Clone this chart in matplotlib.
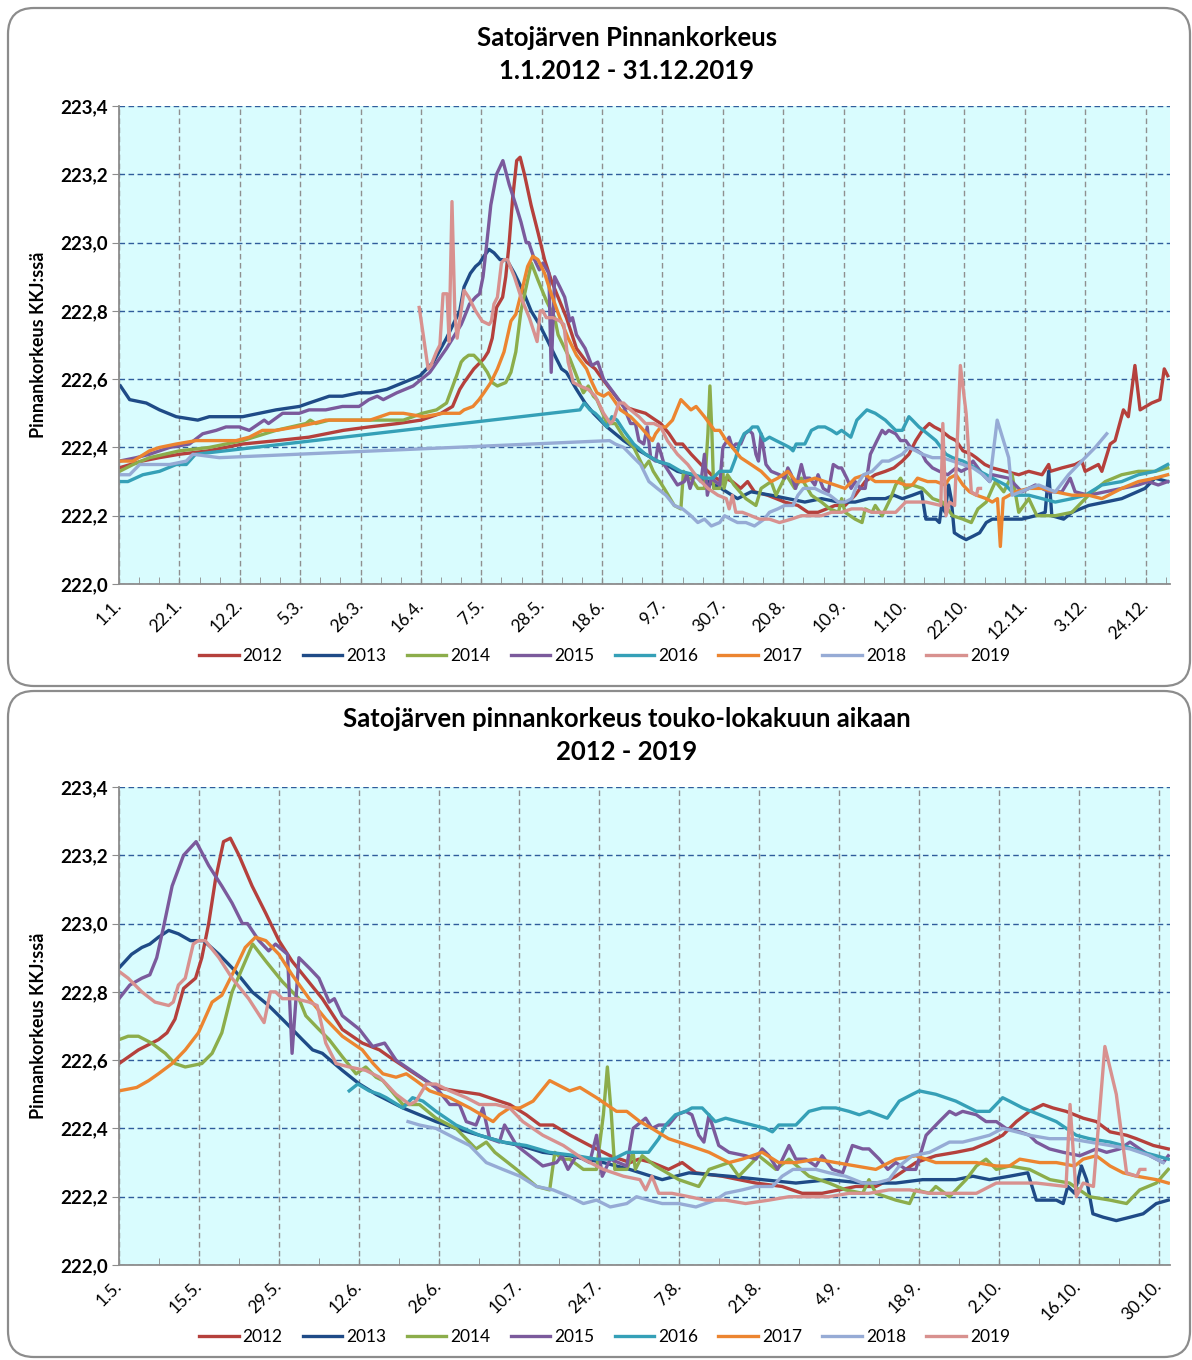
import numpy as np
import matplotlib
matplotlib.use('Agg')
import matplotlib.pyplot as plt
from matplotlib.patches import FancyBboxPatch
from matplotlib.ticker import FixedLocator
from matplotlib.transforms import ScaledTranslation

plt.rcParams['font.family'] = ['Lato', 'DejaVu Sans']

years = ['2012', '2013', '2014', '2015', '2016', '2017', '2018', '2019']
colors = ['#B5403C', '#1F4B87', '#8CAD4B', '#7B5A9C', '#35A0B7', '#EC8530', '#96ABD5', '#D8918F']

# water level (m, KKJ) as (day counted from 1.1., level)
lvl_2012 = [(0, 222.34), (8, 222.36), (14, 222.37), (21, 222.38), (31, 222.39), (43, 222.41), (55, 222.42),
            (66, 222.43), (78, 222.45), (87, 222.46), (97, 222.47), (105, 222.48), (112, 222.50), (116, 222.52),
            (118.5, 222.57), (120, 222.59), (123.4, 222.63), (126.9, 222.66), (128.4, 222.68), (129.8, 222.72),
            (131.3, 222.81), (133.4, 222.84), (134.5, 222.90), (135.7, 223.00), (136.9, 223.13), (138.3, 223.24),
            (139.5, 223.25), (141, 223.20), (143.3, 223.11), (145.7, 223.03), (148, 222.95), (150.3, 222.89),
            (152.7, 222.84), (155.6, 222.78), (159.1, 222.69), (162.6, 222.65), (165.6, 222.63), (167.3, 222.61),
            (170.9, 222.57), (175.5, 222.52), (179, 222.51), (183.1, 222.50), (186.6, 222.48), (188.4, 222.47),
            (191.3, 222.44), (193.7, 222.41), (196, 222.41), (199, 222.38), (202.4, 222.35), (206, 222.32),
            (209.5, 222.30), (211, 222.31), (213.3, 222.30), (216.2, 222.28), (218.6, 222.30), (221, 222.27),
            (225.6, 222.26), (231.5, 222.24), (236.1, 222.23), (239.6, 222.21), (243.1, 222.21), (246.1, 222.22),
            (249, 222.23), (252.5, 222.23), (256, 222.26), (259.5, 222.30), (263, 222.32), (266.5, 222.33),
            (269.5, 222.34), (272.4, 222.36), (274.7, 222.38), (277.1, 222.42), (279.4, 222.45), (281.8, 222.47),
            (283.5, 222.46), (285.8, 222.45), (288.8, 222.43), (291.1, 222.42), (293.5, 222.39), (296.4, 222.38),
            (298.1, 222.37), (301.1, 222.35), (303.7, 222.34), (308.3, 222.33), (312.9, 222.32), (316.4, 222.33),
            (321, 222.32), (323.3, 222.35), (323.9, 222.33), (327.9, 222.34), (332.5, 222.35), (334.8, 222.36),
            (336, 222.33), (340.6, 222.35), (341.8, 222.33), (344.7, 222.41), (346.4, 222.42), (349.3, 222.51),
            (351, 222.49), (353.3, 222.64), (355.1, 222.51), (359.1, 222.53), (362, 222.54), (363.5, 222.63),
            (364.7, 222.61)]

lvl_2013 = [(0.5, 222.58), (3.7, 222.54), (9.5, 222.53), (14.1, 222.51), (19.9, 222.49), (27.4, 222.48),
            (31.4, 222.49), (43, 222.49), (48.8, 222.50), (54.6, 222.51), (62.7, 222.52), (66.1, 222.53),
            (73.1, 222.55), (77.7, 222.55), (83.5, 222.56), (87.3, 222.56), (93.1, 222.57), (98.9, 222.59),
            (104.7, 222.61), (109.3, 222.65), (113.9, 222.72), (118.5, 222.80), (120, 222.87), (122.2, 222.91),
            (124, 222.93), (125.4, 222.94), (126.9, 222.96), (128.7, 222.98), (130.4, 222.97), (132.5, 222.95),
            (134.8, 222.95), (137.5, 222.91), (140.4, 222.86), (143.3, 222.80), (146.2, 222.76), (149.2, 222.71),
            (152.1, 222.66), (153.9, 222.63), (155.6, 222.62), (159.1, 222.57), (162.1, 222.53), (165, 222.50),
            (169.7, 222.46), (175.5, 222.42), (179, 222.40), (183.1, 222.38), (187.2, 222.36), (190.2, 222.35),
            (194.2, 222.33), (198.9, 222.32), (204.8, 222.30), (209.4, 222.28), (215.1, 222.25), (219.8, 222.27),
            (226.8, 222.26), (232.6, 222.25), (238.5, 222.24), (244.3, 222.25), (250.2, 222.24), (256, 222.24),
            (260.7, 222.25), (266.5, 222.25), (269.5, 222.26), (272.4, 222.25), (275.9, 222.26), (279.1, 222.27),
            (280.6, 222.19), (282.3, 222.19), (284.1, 222.19), (285.3, 222.18), (286.1, 222.23), (287.3, 222.21),
            (288.5, 222.29), (289.4, 222.25), (290.5, 222.15), (292.3, 222.14), (294.6, 222.13), (297, 222.14),
            (299.3, 222.15), (301.6, 222.18), (303.7, 222.19), (307.1, 222.19), (314, 222.19), (318.7, 222.20),
            (322.1, 222.21), (323.3, 222.33), (324.4, 222.20), (328.5, 222.19), (331.4, 222.21), (337.2, 222.23),
            (343, 222.24), (348.7, 222.25), (356.8, 222.28), (360.3, 222.31), (364.7, 222.30)]

lvl_2014 = [(0.2, 222.33), (4.9, 222.35), (10.6, 222.37), (21, 222.39), (31.4, 222.40), (43, 222.42),
            (54.6, 222.45), (65, 222.47), (66.5, 222.48), (68.5, 222.47), (73.1, 222.48), (80, 222.48),
            (87.3, 222.48), (98.9, 222.48), (105.5, 222.50), (110.4, 222.51), (113.9, 222.53), (117.4, 222.61),
            (119, 222.65), (120, 222.66), (121.6, 222.67), (123.4, 222.67), (125.7, 222.65), (128.1, 222.62),
            (129.8, 222.59), (131.6, 222.58), (134.5, 222.59), (136.3, 222.62), (138, 222.68), (139.8, 222.80),
            (141.6, 222.87), (143.4, 222.94), (145.7, 222.89), (148.6, 222.83), (151.5, 222.78), (152.7, 222.73),
            (155, 222.69), (156.8, 222.66), (159.1, 222.61), (161.5, 222.56), (163.2, 222.58), (165, 222.55),
            (166.2, 222.54), (169.7, 222.47), (172.6, 222.47), (175.5, 222.43), (179, 222.40), (182.5, 222.34),
            (184.3, 222.36), (185.8, 222.33), (189.6, 222.28), (193.1, 222.23), (195.4, 222.22), (196.3, 222.33),
            (197.5, 222.31), (198.9, 222.31), (201.3, 222.28), (203.6, 222.28), (204.8, 222.44), (205.5, 222.58),
            (206.2, 222.44), (206.8, 222.28), (208.9, 222.28), (210, 222.33), (210.4, 222.28), (211.6, 222.32),
            (213.9, 222.29), (218, 222.25), (221.5, 222.23), (223.3, 222.28), (226.8, 222.30), (228.5, 222.26),
            (232, 222.32), (235, 222.28), (237.3, 222.31), (240.8, 222.26), (244.3, 222.24), (247.2, 222.22),
            (250.2, 222.21), (251.3, 222.25), (252.5, 222.21), (256, 222.19), (258.4, 222.18), (259.5, 222.22),
            (261.9, 222.21), (263, 222.23), (265.4, 222.20), (268.3, 222.25), (270.1, 222.29), (271.8, 222.31),
            (273.6, 222.28), (275.9, 222.29), (279.4, 222.28), (283, 222.25), (286.4, 222.24), (289.9, 222.20),
            (293.5, 222.19), (296.4, 222.18), (298.7, 222.22), (301.6, 222.24), (303.7, 222.28), (304.8, 222.30),
            (307.7, 222.27), (310.6, 222.32), (312.9, 222.21), (316.4, 222.25), (319.2, 222.20), (325.6, 222.20),
            (331.4, 222.21), (337.2, 222.26), (343, 222.30), (348.7, 222.32), (354.5, 222.33), (360.3, 222.33),
            (364.7, 222.34)]

lvl_2015 = [(0.2, 222.36), (6, 222.37), (10.6, 222.38), (17.6, 222.40), (24.5, 222.41), (29.1, 222.44),
            (33.8, 222.45), (37.2, 222.46), (41.8, 222.46), (45.3, 222.45), (50.5, 222.48), (52, 222.47),
            (56.9, 222.50), (62.7, 222.50), (66.1, 222.51), (71.9, 222.51), (77.7, 222.52), (83.5, 222.52),
            (86.9, 222.54), (89.8, 222.55), (91.9, 222.54), (96.6, 222.56), (102.3, 222.58), (108.1, 222.62),
            (113.9, 222.69), (119, 222.76), (120, 222.78), (121.9, 222.82), (124, 222.84), (125.4, 222.85),
            (126.6, 222.90), (127.8, 222.99), (129.3, 223.11), (131.3, 223.20), (133.5, 223.24), (135.7, 223.17),
            (138, 223.11), (139.8, 223.06), (141.6, 223.00), (142.5, 223.00), (144.5, 222.95), (146.2, 222.92),
            (147.4, 222.94), (149.5, 222.91), (150.3, 222.62), (151.5, 222.90), (153.3, 222.87), (155, 222.84),
            (156.8, 222.77), (157.7, 222.78), (159.1, 222.73), (162.1, 222.69), (164.4, 222.64), (166.5, 222.65),
            (168.5, 222.60), (172, 222.56), (175.5, 222.52), (177.9, 222.47), (179.6, 222.47), (180.8, 222.42),
            (182.5, 222.41), (183.7, 222.46), (184.9, 222.37), (186.6, 222.36), (187.5, 222.41), (189.6, 222.35),
            (191.9, 222.32), (194.2, 222.29), (196.6, 222.30), (197.5, 222.32), (198.6, 222.28), (200.1, 222.32),
            (202.4, 222.30), (203.6, 222.38), (204.6, 222.26), (206, 222.31), (208.9, 222.29), (210, 222.40),
            (212.2, 222.43), (213.3, 222.40), (214.5, 222.41), (216.2, 222.41), (217.7, 222.44), (219.2, 222.45),
            (220.3, 222.44), (221.5, 222.38), (222.4, 222.36), (223.3, 222.44), (225, 222.35), (226.8, 222.33),
            (229.7, 222.32), (231.5, 222.31), (232.6, 222.34), (233.8, 222.32), (235.3, 222.28), (237.3, 222.35),
            (238.5, 222.31), (240.2, 222.31), (242, 222.29), (243.1, 222.32), (244.9, 222.28), (246.7, 222.27),
            (248.4, 222.35), (250.2, 222.34), (251.3, 222.34), (253.1, 222.31), (254.6, 222.28), (256, 222.30),
            (257.8, 222.28), (259.5, 222.28), (261.3, 222.38), (263.6, 222.42), (265.4, 222.45), (266.5, 222.44),
            (267.7, 222.45), (270.1, 222.44), (271.8, 222.42), (273.6, 222.42), (275.3, 222.40), (277.7, 222.39),
            (279.4, 222.38), (280.6, 222.36), (282.9, 222.34), (285.3, 222.33), (288.2, 222.32), (291.1, 222.34),
            (292.9, 222.33), (295.2, 222.34), (297, 222.36), (298.7, 222.34), (300.5, 222.32), (302.8, 222.30),
            (303.7, 222.32), (309.4, 222.31), (314, 222.27), (318.7, 222.29), (323.3, 222.27), (327.9, 222.27),
            (330.8, 222.31), (332.5, 222.27), (337.2, 222.26), (343, 222.27), (348.7, 222.28), (354.5, 222.29),
            (358, 222.30), (361.4, 222.29), (364.7, 222.30)]

lvl_2016 = [(0.2, 222.30), (3.1, 222.30), (8.3, 222.32), (14.1, 222.33), (19.9, 222.35), (23.4, 222.35),
            (26.6, 222.38), (160.3, 222.51), (161.8, 222.53), (163.8, 222.51), (165.6, 222.50), (166.8, 222.49),
            (169.7, 222.46), (171.4, 222.49), (173.2, 222.48), (175.5, 222.45), (179, 222.41), (183.1, 222.38),
            (187.2, 222.36), (191.3, 222.35), (195.4, 222.33), (200.1, 222.32), (203.6, 222.31), (206.5, 222.31),
            (208.9, 222.33), (211, 222.33), (212.7, 222.33), (214.5, 222.37), (215.7, 222.41), (217.4, 222.44),
            (219.2, 222.45), (220.3, 222.46), (222.1, 222.46), (224.4, 222.42), (226.2, 222.43), (228.5, 222.42),
            (230.9, 222.41), (233.2, 222.40), (234.4, 222.39), (235.5, 222.41), (238.5, 222.41), (240.8, 222.45),
            (243.1, 222.46), (245.5, 222.46), (247.8, 222.45), (249.6, 222.44), (251.3, 222.45), (254.5, 222.43),
            (256.6, 222.48), (258.9, 222.50), (260.1, 222.51), (263, 222.50), (266.5, 222.48), (270.1, 222.45),
            (272.4, 222.45), (274.7, 222.49), (275.9, 222.48), (278.2, 222.46), (281.2, 222.44), (284.1, 222.42),
            (287.6, 222.38), (289.9, 222.37), (293.5, 222.36), (295.8, 222.35), (299.3, 222.33), (301.6, 222.32),
            (303.7, 222.31), (308.3, 222.29), (311.7, 222.26), (316.4, 222.26), (321, 222.25), (325.6, 222.24),
            (331.4, 222.25), (336, 222.26), (341.8, 222.29), (348.7, 222.30), (354.5, 222.32), (360.3, 222.33),
            (364.7, 222.35)]

lvl_2017 = [(0.2, 222.36), (4.9, 222.36), (10.6, 222.39), (14.1, 222.40), (19.9, 222.41), (26.8, 222.42),
            (31.4, 222.42), (40.7, 222.42), (45.3, 222.43), (49.9, 222.45), (54.6, 222.45), (61.5, 222.46),
            (67.3, 222.47), (71.9, 222.48), (80, 222.48), (84.6, 222.48), (87.3, 222.48), (94.2, 222.50),
            (98.9, 222.50), (105.8, 222.49), (112.7, 222.50), (118.5, 222.50), (120, 222.51), (123.1, 222.52),
            (125.2, 222.54), (126.9, 222.56), (129.3, 222.59), (131.6, 222.63), (133.9, 222.68), (136.3, 222.77),
            (138, 222.79), (140.4, 222.87), (142.1, 222.93), (143.9, 222.96), (145.7, 222.95), (148, 222.91),
            (150.3, 222.85), (153.3, 222.78), (156.2, 222.72), (159.1, 222.67), (162.6, 222.63), (164.5, 222.59),
            (166.2, 222.56), (168.5, 222.55), (170.3, 222.56), (172, 222.54), (174.4, 222.51), (177.9, 222.49),
            (181.4, 222.46), (185.5, 222.42), (186.6, 222.44), (188.4, 222.46), (190.2, 222.46), (192.5, 222.48),
            (195.4, 222.54), (198.9, 222.51), (200.7, 222.52), (203.6, 222.49), (207.1, 222.45), (208.9, 222.45),
            (211.2, 222.42), (213.3, 222.40), (216.2, 222.37), (219.8, 222.35), (223.3, 222.33), (226.8, 222.30),
            (229.1, 222.31), (232.6, 222.33), (235.5, 222.30), (238.5, 222.30), (242, 222.31), (245.5, 222.30),
            (249, 222.29), (252.5, 222.28), (256, 222.31), (259.5, 222.32), (263, 222.30), (266.5, 222.30),
            (270.1, 222.30), (273.6, 222.29), (275.9, 222.29), (277.7, 222.31), (281.2, 222.30), (284.1, 222.30),
            (287.3, 222.29), (288.8, 222.31), (291.1, 222.32), (293.5, 222.29), (295.8, 222.27), (298.2, 222.26),
            (301.6, 222.25), (303.7, 222.24), (305.5, 222.25), (306.5, 222.11), (307.5, 222.25), (311.7, 222.27),
            (316.4, 222.28), (321, 222.28), (325.6, 222.27), (331.4, 222.26), (337.2, 222.26), (341.8, 222.25),
            (348.7, 222.28), (354.5, 222.30), (360.3, 222.31), (364.7, 222.32)]

lvl_2018 = [(0.2, 222.32), (3.7, 222.32), (7.2, 222.35), (11.8, 222.35), (17.6, 222.35), (23.4, 222.36),
            (25.7, 222.38), (34.9, 222.37), (170.6, 222.42), (172.6, 222.41), (175.5, 222.40), (179, 222.37),
            (181.4, 222.35), (184.3, 222.30), (187.2, 222.28), (190.2, 222.26), (193.1, 222.23), (196, 222.22),
            (198.9, 222.20), (201.3, 222.18), (203.6, 222.19), (206, 222.17), (208.9, 222.18), (210.6, 222.20),
            (212.7, 222.19), (215.1, 222.18), (218, 222.18), (221, 222.17), (224.4, 222.19), (226.2, 222.21),
            (229.1, 222.22), (231.5, 222.23), (234.4, 222.23), (236.1, 222.26), (238, 222.28), (239.6, 222.28),
            (242, 222.28), (244.3, 222.27), (247.2, 222.26), (250.2, 222.24), (252.5, 222.24), (254.8, 222.25),
            (256.6, 222.29), (258.9, 222.32), (261.9, 222.33), (265.4, 222.36), (267.7, 222.36), (270.1, 222.37),
            (272.4, 222.38), (274.7, 222.40), (277.1, 222.39), (279.4, 222.38), (282.9, 222.37), (286.4, 222.37),
            (289.9, 222.36), (293.5, 222.35), (297, 222.34), (300.5, 222.32), (302.8, 222.30), (305.4, 222.48),
            (309.4, 222.37), (310.6, 222.26), (316.4, 222.28), (319.8, 222.29), (325.6, 222.27), (330.2, 222.32),
            (334.8, 222.36), (339.5, 222.40), (343.5, 222.44)]

lvl_2019 = [(104.4, 222.81), (105.8, 222.73), (107.5, 222.63), (108.5, 222.64), (110.4, 222.68), (111.6, 222.70),
            (112.7, 222.85), (114.1, 222.85), (114.8, 222.71), (115.8, 223.12), (116.8, 222.79), (117.6, 222.72),
            (120, 222.86), (121.6, 222.84), (124, 222.80), (126.3, 222.77), (128.7, 222.76), (129.5, 222.77),
            (130.4, 222.82), (131.6, 222.84), (133, 222.94), (133.9, 222.95), (135.1, 222.95), (137.5, 222.90),
            (139.8, 222.84), (142.7, 222.78), (145.4, 222.71), (146.5, 222.80), (147.4, 222.80), (148.6, 222.78),
            (150.9, 222.78), (153.3, 222.77), (154.7, 222.76), (156.2, 222.65), (158, 222.59), (160.3, 222.58),
            (163.2, 222.57), (165.6, 222.55), (166.8, 222.53), (168.5, 222.50), (170.9, 222.47), (172, 222.48),
            (173.8, 222.53), (175.5, 222.53), (177.9, 222.51), (180.8, 222.49), (183.1, 222.47), (186, 222.47),
            (188.4, 222.46), (190.7, 222.42), (194.2, 222.38), (197.8, 222.35), (201.3, 222.31), (204.8, 222.28),
            (208.3, 222.26), (211.2, 222.25), (212.2, 222.22), (213.3, 222.26), (214.5, 222.21), (216.8, 222.21),
            (219.8, 222.20), (222.7, 222.19), (226.2, 222.19), (229.7, 222.18), (233.8, 222.19), (237.3, 222.20),
            (240.8, 222.20), (244.3, 222.20), (247.8, 222.21), (251.3, 222.21), (254.8, 222.22), (258.4, 222.22),
            (261.9, 222.21), (266.5, 222.21), (270.1, 222.21), (273.6, 222.24), (277.1, 222.24), (280.6, 222.24),
            (285.8, 222.23), (286.5, 222.47), (287.6, 222.20), (288.8, 222.24), (290.6, 222.23), (292.6, 222.64),
            (294.6, 222.50), (296.4, 222.27), (298.2, 222.26), (298.7, 222.28), (299.6, 222.28)]

levels = [lvl_2012, lvl_2013, lvl_2014, lvl_2015, lvl_2016, lvl_2017, lvl_2018, lvl_2019]

top_ticks = [0, 21, 42, 63, 84, 105, 126, 147, 168, 189, 210, 231, 252, 273, 294, 315, 336, 357]
top_labels = ['1.1.', '22.1.', '12.2.', '5.3.', '26.3.', '16.4.', '7.5.', '28.5.', '18.6.', '9.7.',
              '30.7.', '20.8.', '10.9.', '1.10.', '22.10.', '12.11.', '3.12.', '24.12.']
bot_ticks = [120, 134, 148, 162, 176, 190, 204, 218, 232, 246, 260, 274, 288, 302]
bot_labels = ['1.5.', '15.5.', '29.5.', '12.6.', '26.6.', '10.7.', '24.7.', '7.8.', '21.8.', '4.9.',
              '18.9.', '2.10.', '16.10.', '30.10.']
y_ticks = [222.0, 222.2, 222.4, 222.6, 222.8, 223.0, 223.2, 223.4]

fig = plt.figure(figsize=(11.92, 13.6), dpi=100)

# rounded chart frames (inches)
for y0, h in [(6.74, 6.78), (0.03, 6.66)]:
    fig.add_artist(FancyBboxPatch((0.08, y0), 11.82, h, boxstyle='round,pad=0,rounding_size=0.26',
                                  transform=fig.dpi_scale_trans, facecolor='white',
                                  edgecolor='#8C8C8C', lw=1.6, zorder=-1))

ax1 = fig.add_axes([119 / 1192, 1 - 584 / 1360, 1051 / 1192, 478 / 1360])
ax2 = fig.add_axes([119 / 1192, 1 - 1265 / 1360, 1051 / 1192, 478 / 1360])

shift = ScaledTranslation(0.09, 0, fig.dpi_scale_trans)


def setup(ax, ticks, labels, x0, x1):
    ax.set_facecolor('#D9FCFE')
    ax.set_xlim(x0, x1)
    ax.set_ylim(222.0, 223.4)
    ax.set_yticks(y_ticks)
    ax.set_yticklabels([f'{v:.1f}'.replace('.', ',') for v in y_ticks],
                       fontweight='bold', fontsize=13.5)
    ax.set_xticks(ticks)
    ax.set_xticklabels(labels, rotation=45, ha='right', va='center',
                       rotation_mode='anchor', fontsize=12.5)
    for lab in ax.get_xticklabels():
        lab.set_transform(lab.get_transform() + shift)
    ax.xaxis.set_minor_locator(FixedLocator(np.arange(x0, x1, 7)))
    ax.grid(axis='y', color='#2F5C9B', ls=(0, (4, 2.5)), lw=1)
    ax.grid(axis='x', color='#8F8F8F', ls=(0, (4, 2.5)), lw=1)
    ax.set_axisbelow(True)
    for s in ['top', 'right']:
        ax.spines[s].set_visible(False)
    for s in ['left', 'bottom']:
        ax.spines[s].set_color('#8C8C8C')
        ax.spines[s].set_linewidth(1.3)
    ax.tick_params(axis='x', which='both', direction='in', length=5, color='#8C8C8C', pad=13)
    ax.tick_params(axis='y', direction='out', length=5, color='#8C8C8C', pad=3)
    ax.set_ylabel('Pinnankorkeus KKJ:ssä', fontweight='bold', fontsize=13)
    ax.yaxis.set_label_coords(-0.0685, 0.5)


setup(ax1, top_ticks, top_labels, 0, 365.5)
setup(ax2, bot_ticks, bot_labels, 120, 304)

for yr, col, data in zip(years, colors, levels):
    arr = np.array(data)
    ax1.plot(arr[:, 0], arr[:, 1], color=col, lw=2.4, label=yr, solid_joinstyle='round')
    m = (arr[:, 0] >= 120) & (arr[:, 0] <= 304)
    ax2.plot(arr[m, 0], arr[m, 1], color=col, lw=2.4, label=yr, solid_joinstyle='round')

for ax in [ax1, ax2]:
    ax.legend(loc='center', bbox_to_anchor=(0.462, -0.151), ncol=8, frameon=False, fontsize=12.5,
              handlelength=2.3, handletextpad=0.23, columnspacing=1.15)

fig.text(0.526, 1 - 38 / 1360, 'Satojärven Pinnankorkeus', ha='center', va='center',
         fontsize=18.5, fontweight='bold')
fig.text(0.526, 1 - 71 / 1360, '1.1.2012 - 31.12.2019', ha='center', va='center',
         fontsize=18.5, fontweight='bold')
fig.text(0.526, 1 - 719 / 1360, 'Satojärven pinnankorkeus touko-lokakuun aikaan', ha='center',
         va='center', fontsize=18.5, fontweight='bold')
fig.text(0.526, 1 - 752 / 1360, '2012 - 2019', ha='center', va='center',
         fontsize=18.5, fontweight='bold')

fig.savefig('out.png', dpi=100)
